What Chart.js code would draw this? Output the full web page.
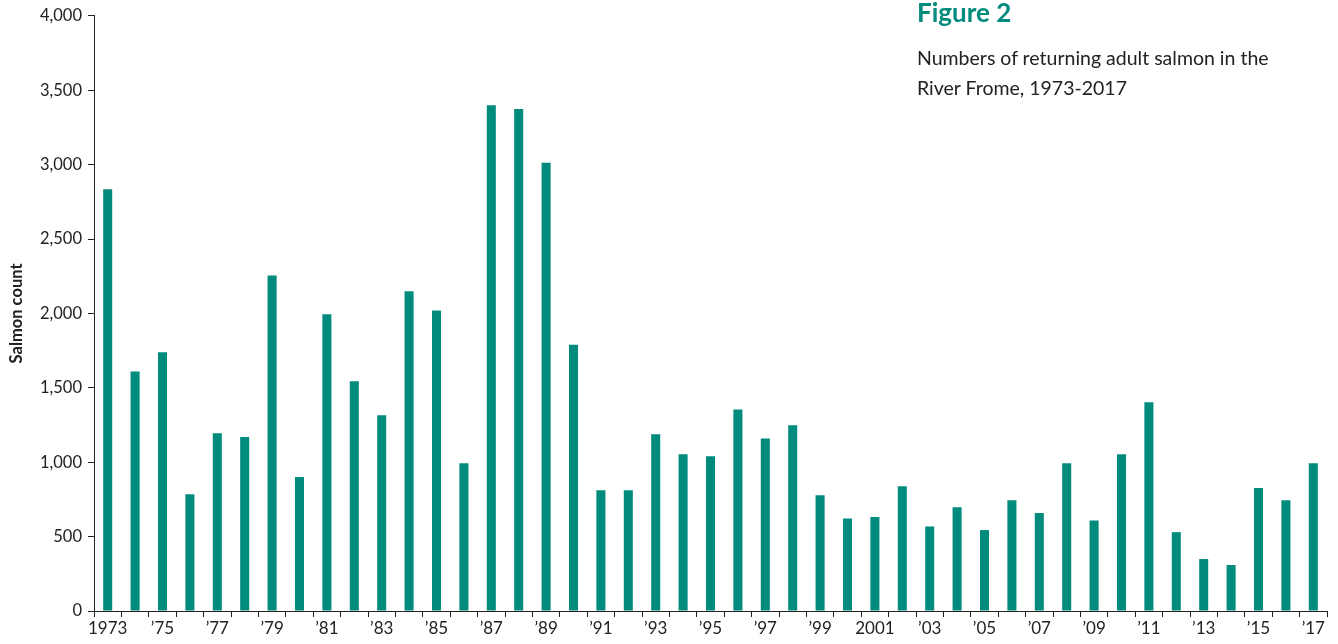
<!DOCTYPE html>
<html>
<head>
<meta charset="utf-8">
<script src="https://cdn.jsdelivr.net/npm/chart.js@4/dist/chart.umd.min.js"></script>
<style>
    html, body { margin: 0; padding: 0; background: #fff; }
    #wrap { position: relative; width: 1338px; height: 644px; }
    #title { position: absolute; left: 917px; top: -4px; font: bold 26px Lato, sans-serif; color: #008B7C; }
    #sub { position: absolute; left: 917px; top: 43px; font: 19.5px Lato, sans-serif; color: #222; line-height: 30px; }
</style>
</head>
<body>
<div id="wrap">
    <canvas id="chart" width="1338" height="644"></canvas>
    <div id="title">Figure 2</div>
    <div id="sub">Numbers of returning adult salmon in the<br>River Frome, 1973-2017</div>
</div>
<script>
// years 1973-2017
const years = [
    1973, 1974, 1975, 1976, 1977, 1978, 1979, 1980, 1981, 1982,
    1983, 1984, 1985, 1986, 1987, 1988, 1989, 1990, 1991, 1992,
    1993, 1994, 1995, 1996, 1997, 1998, 1999, 2000, 2001, 2002,
    2003, 2004, 2005, 2006, 2007, 2008, 2009, 2010, 2011, 2012,
    2013, 2014, 2015, 2016, 2017
];

const salmonCount = [
    2835, 1610, 1740, 785, 1195, 1170, 2255, 900, 1995, 1545,
    1315, 2150, 2020, 993, 3400, 3375, 3013, 1790, 812, 812,
    1188, 1054, 1040, 1355, 1160, 1248, 778, 622, 631, 839,
    568, 698, 544, 745, 658, 993, 608, 1054, 1403, 530,
    349, 309, 826, 745, 993
];

const tickLabels = [
    '1973', '', '\u201975', '', '\u201977', '', '\u201979', '', '\u201981', '',
    '\u201983', '', '\u201985', '', '\u201987', '', '\u201989', '', '\u201991', '',
    '\u201993', '', '\u201995', '', '\u201997', '', '\u201999', '', '2001', '',
    '\u201903', '', '\u201905', '', '\u201907', '', '\u201909', '', '\u201911', '',
    '\u201913', '', '\u201915', '', '\u201917'
];

const yTicks = [0, 500, 1000, 1500, 2000, 2500, 3000, 3500, 4000];

const TEAL = '#008B7C';
const INK = '#222';

Chart.defaults.font.family = 'Lato, sans-serif';
Chart.defaults.color = INK;

new Chart(document.getElementById('chart').getContext('2d'), {
    type: 'bar',
    data: {
        labels: years,
        datasets: [{
            data: salmonCount,
            backgroundColor: TEAL,
            categoryPercentage: 1,
            barPercentage: 0.33
        }]
    },
    options: {
        responsive: false,
        animation: false,
        layout: { padding: { top: 15, right: 11, left: 0, bottom: 0 } },
        plugins: { legend: { display: false }, tooltip: { enabled: false } },
        scales: {
            x: {
                offset: true,
                grid: { offset: true, drawOnChartArea: false, drawTicks: true, tickLength: 6, color: INK },
                border: { color: INK, width: 1 },
                ticks: {
                    autoSkip: false,
                    maxRotation: 0,
                    padding: 1,
                    font: { size: 17 },
                    callback: (v, i) => tickLabels[i]
                },
                afterFit: s => { s.height = 33; }
            },
            y: {
                min: 0,
                max: 4000,
                afterBuildTicks: s => { s.ticks = yTicks.map(v => ({ value: v })); },
                grid: { drawOnChartArea: false, drawTicks: true, tickLength: 6, color: INK },
                border: { color: INK, width: 1 },
                ticks: {
                    padding: 6,
                    font: { size: 16.5 },
                    callback: v => v.toLocaleString('en-US')
                },
                title: {
                    display: true,
                    text: 'Salmon count',
                    font: { size: 16.5, weight: 'bold' },
                    padding: { top: 7, bottom: 4 }
                },
                afterFit: s => { s.width = 94; }
            }
        }
    }
});
</script>
</body>
</html>
